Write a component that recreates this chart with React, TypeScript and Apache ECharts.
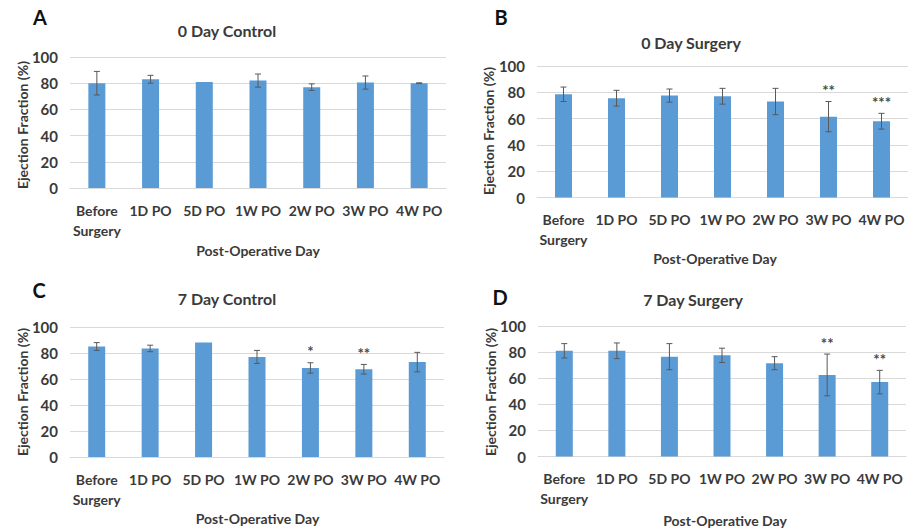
import React, { useEffect, useRef } from "react";
import * as echarts from "echarts";

const categories = ["Before\nSurgery", "1D PO", "5D PO", "1W PO", "2W PO", "3W PO", "4W PO"];
const panelLetters = ["A", "B", "C", "D"];
const panelTitles = ["0 Day Control", "0 Day Surgery", "7 Day Control", "7 Day Surgery"];
const yAxisName = "Ejection Fraction (%)";
const xAxisName = "Post-Operative Day";

const meanA = [80, 83, 81, 82, 77, 80.5, 80];
const errA = [9, 3, 0, 5, 2.5, 5, 0.3];
const starsA = ["", "", "", "", "", "", ""];

const meanB = [78.5, 75.5, 77.5, 77, 73, 61.5, 58];
const errB = [5.5, 6, 5, 6, 10, 11.5, 6];
const starsB = ["", "", "", "", "", "**", "***"];

const meanC = [85, 83.5, 88, 77, 68.5, 67.5, 73];
const errC = [3, 2.5, 0, 5, 4, 3.7, 7.5];
const starsC = ["", "", "", "", "*", "**", ""];

const meanD = [81, 81, 76.5, 77.5, 71.5, 62.5, 57];
const errD = [5.5, 6, 10, 5.5, 5, 16, 9];
const starsD = ["", "", "", "", "", "**", "**"];

const panelMeans = [meanA, meanB, meanC, meanD];
const panelErrs = [errA, errB, errC, errD];
const panelStars = [starsA, starsB, starsC, starsD];

const FONT = "Lato";
const TEXT = "#3a3a3a";

const grids = [
  { left: 70, top: 57, width: 376, height: 131 },
  { left: 537, top: 66, width: 371, height: 131.5 },
  { left: 70, top: 327, width: 374, height: 130 },
  { left: 538, top: 326, width: 368, height: 130.5 },
];
const letterPos = [[40, 17], [501, 17], [39, 290], [500, 297]];
const titlePos = [[227, 30], [691, 42], [227, 298], [693, 299]];
const yNamePos = [[22.5, 125], [488, 131], [22.5, 392], [490, 392]];
const xNamePos = [[258, 250], [715, 258], [257.5, 518], [725, 520]];

export default function App() {
  const ref = useRef<HTMLDivElement>(null);
  useEffect(() => {
    if (!ref.current) return;
    const chart = echarts.init(ref.current, null, { renderer: "svg" });
    const xAxis: any[] = [];
    const yAxis: any[] = [];
    const series: any[] = [];
    const graphic: any[] = [];
    for (let p = 0; p < 4; p++) {
      xAxis.push({
        type: "category",
        gridIndex: p,
        data: categories,
        axisLine: { show: true, lineStyle: { color: "#d9d9d9" } },
        axisTick: { show: false },
        axisLabel: {
          interval: 0,
          color: TEXT,
          fontFamily: FONT,
          fontWeight: "bold",
          fontSize: 14,
          lineHeight: 20,
          margin: 12,
        },
      });
      yAxis.push({
        type: "value",
        gridIndex: p,
        min: 0,
        max: 100,
        interval: 20,
        axisLine: { show: false },
        axisTick: { show: false },
        splitLine: { lineStyle: { color: "#d9d9d9" } },
        axisLabel: { color: TEXT, fontFamily: FONT, fontWeight: "bold", fontSize: 15, margin: 12 },
      });
      series.push({
        type: "bar",
        xAxisIndex: p,
        yAxisIndex: p,
        data: panelMeans[p],
        barWidth: 17,
        itemStyle: { color: "#5b9bd5" },
        z: 2,
      });
      const errData = panelMeans[p].map((m, i) => [i, m, panelErrs[p][i], panelStars[p][i]]);
      series.push({
        type: "custom",
        xAxisIndex: p,
        yAxisIndex: p,
        data: errData,
        encode: { x: 0, y: 1 },
        z: 3,
        renderItem: (params: any, api: any) => {
          const idx = api.value(0);
          const m = api.value(1);
          const e = api.value(2);
          const star = errData[params.dataIndex][3] as string;
          const top = api.coord([idx, m + e]);
          const bot = api.coord([idx, m - e]);
          const x = top[0];
          const style = { stroke: "#595959", lineWidth: 1 };
          const children: any[] = [];
          if (e > 0) {
            children.push(
              { type: "line", shape: { x1: x, y1: top[1], x2: x, y2: bot[1] }, style },
              { type: "line", shape: { x1: x - 3, y1: top[1], x2: x + 3, y2: top[1] }, style },
              { type: "line", shape: { x1: x - 3, y1: bot[1], x2: x + 3, y2: bot[1] }, style }
            );
          }
          if (star) {
            children.push({
              type: "text",
              style: {
                text: star,
                x: x,
                y: top[1] - 4,
                textAlign: "center",
                textVerticalAlign: "bottom",
                fill: "#4a4a4a",
                font: `bold 15px ${FONT}`,
              },
            });
          }
          return { type: "group", children };
        },
      });
      graphic.push(
        {
          type: "text",
          x: letterPos[p][0],
          y: letterPos[p][1],
          style: { text: panelLetters[p], fill: "#111", font: `bold 20px ${FONT}`, textAlign: "center", textVerticalAlign: "middle" },
        },
        {
          type: "text",
          x: titlePos[p][0],
          y: titlePos[p][1],
          style: { text: panelTitles[p], fill: TEXT, font: `bold 16px ${FONT}`, textAlign: "center", textVerticalAlign: "middle" },
        },
        {
          type: "text",
          x: yNamePos[p][0],
          y: yNamePos[p][1],
          rotation: Math.PI / 2,
          style: { text: yAxisName, fill: TEXT, font: `bold 14px ${FONT}`, textAlign: "center", textVerticalAlign: "middle" },
        },
        {
          type: "text",
          x: xNamePos[p][0],
          y: xNamePos[p][1],
          style: { text: xAxisName, fill: TEXT, font: `bold 14px ${FONT}`, textAlign: "center", textVerticalAlign: "middle" },
        }
      );
    }
    chart.setOption({
      animation: false,
      backgroundColor: "#ffffff",
      grid: grids,
      xAxis,
      yAxis,
      series,
      graphic,
    });
    return () => chart.dispose();
  }, []);
  return (
    <div
      ref={ref}
      style={{ position: "fixed", left: 0, top: 0, width: 908, height: 529, background: "#fff" }}
    />
  );
}
